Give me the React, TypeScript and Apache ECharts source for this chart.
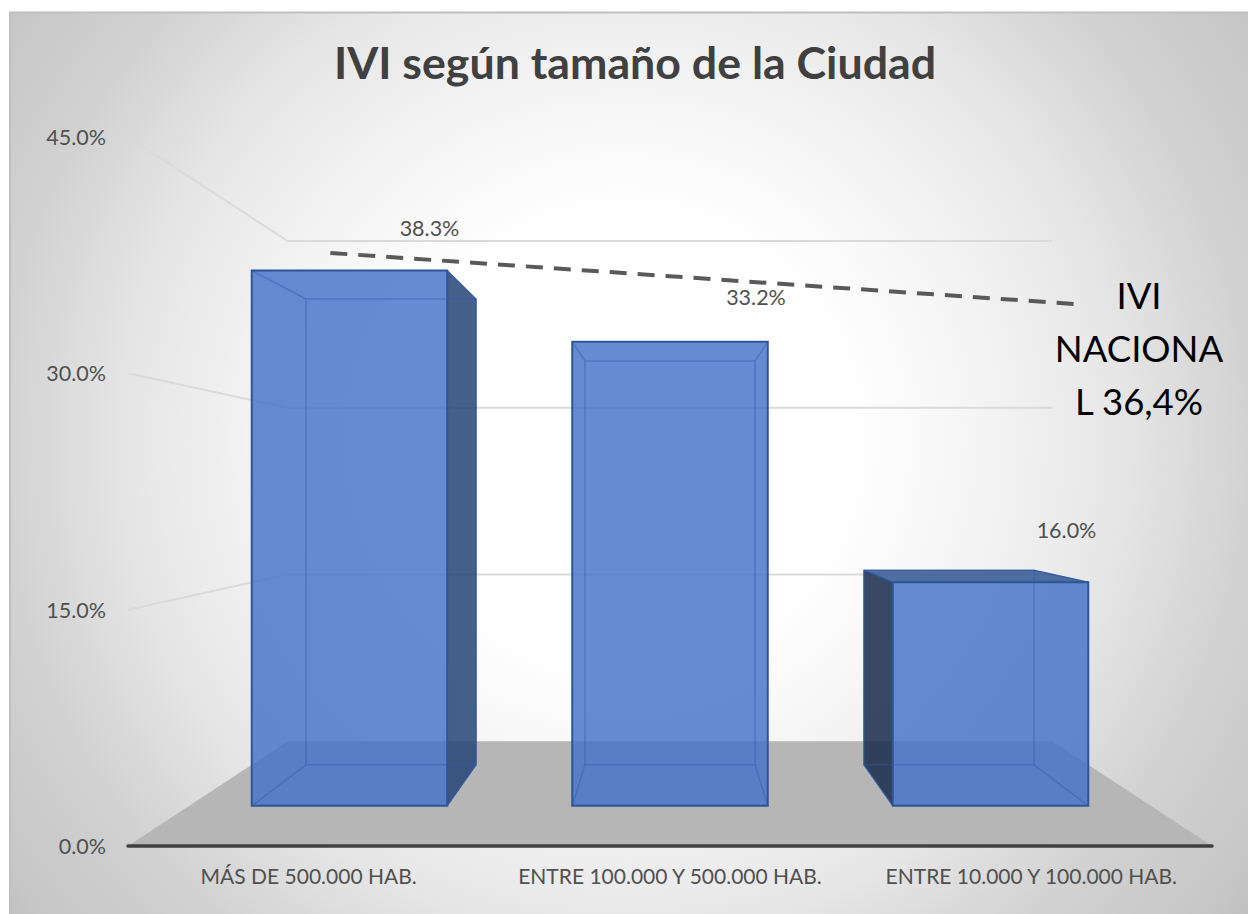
import React, { useEffect, useRef } from "react";
import * as echarts from "echarts";

const TITLE = "IVI según tamaño de la Ciudad";
const CATEGORIES = ["MÁS DE 500.000 HAB.", "ENTRE 100.000 Y 500.000 HAB.", "ENTRE 10.000 Y 100.000 HAB."];
const VALUES = [38.3, 33.2, 16.0];
const TICKS = [0, 15, 30, 45];
const NATIONAL_X = [0.56, 2.62];
const NATIONAL_Y = [37.64, 34.4];
const NATIONAL_TEXT = "IVI\nNACIONA\nL 36,4%";

// perspective of the 3-D box (scale of a depth plane relative to the front plane)
const WALL_S = 0.7055;
const BAR_FRONT_S = 0.887;
const BAR_BACK_S = 0.772;
const VANISH_Y_RATIO = 0.502;
const BAR_WIDTH_RATIO = 0.305;
const LABEL_OFFSETS = [[80, -43], [86, -45], [76, -52]];

const FONT = "Lato, 'Open Sans', sans-serif";
const GRID = { left: 128, top: 137, width: 1084, height: 709 };

function vanish(cs: any) {
  return [cs.x + cs.width / 2, cs.y + cs.height * (1 - VANISH_Y_RATIO)];
}
function proj(v: number[], p: number[], s: number) {
  return [v[0] + (p[0] - v[0]) * s, v[1] + (p[1] - v[1]) * s];
}

function renderWall(params: any, api: any) {
  const cs = params.coordSys;
  const v = vanish(cs);
  const y = api.coord([0, api.value(1)])[1];
  const fl = [cs.x, y];
  const fr = [cs.x + cs.width, y];
  const bl = proj(v, fl, WALL_S);
  const br = proj(v, fr, WALL_S);
  if (api.value(1) === 0) {
    return {
      type: "polygon",
      shape: { points: [fl, fr, br, bl] },
      style: { fill: "#B6B6B6" },
    };
  }
  return {
    type: "polyline",
    shape: { points: [fl, bl, br] },
    style: { fill: "none", stroke: "#DADADA", lineWidth: 2 },
  };
}

function renderBar(params: any, api: any) {
  const cs = params.coordSys;
  const v = vanish(cs);
  const idx = api.value(0);
  const val = api.value(1);
  const top = api.coord([idx, val]);
  const base = api.coord([idx, 0]);
  const half = api.size([1, 0])[0] * BAR_WIDTH_RATIO;
  const P = (x: number, y: number, s: number) => proj(v, [x, y], s);
  const L = top[0] - half;
  const R = top[0] + half;
  const fTL = P(L, top[1], BAR_FRONT_S);
  const fTR = P(R, top[1], BAR_FRONT_S);
  const fBL = P(L, base[1], BAR_FRONT_S);
  const fBR = P(R, base[1], BAR_FRONT_S);
  const bTL = P(L, top[1], BAR_BACK_S);
  const bTR = P(R, top[1], BAR_BACK_S);
  const bBL = P(L, base[1], BAR_BACK_S);
  const bBR = P(R, base[1], BAR_BACK_S);
  const edge = "rgba(47,90,175,0.42)";
  const strong = "#2F5597";
  const kids: any[] = [];
  if (bTR[0] > fTR[0]) {
    kids.push({ type: "polygon", shape: { points: [fTR, bTR, bBR, fBR] }, style: { fill: "rgba(38,68,120,0.85)", stroke: strong, lineWidth: 1 } });
  }
  if (bTL[0] < fTL[0]) {
    kids.push({ type: "polygon", shape: { points: [fTL, bTL, bBL, fBL] }, style: { fill: "rgba(26,44,76,0.86)", stroke: strong, lineWidth: 1 } });
  }
  if (bTL[1] < fTL[1]) {
    kids.push({ type: "polygon", shape: { points: [fTL, fTR, bTR, bTL] }, style: { fill: "rgba(42,80,140,0.82)", stroke: strong, lineWidth: 1 } });
  }
  kids.push({ type: "polygon", shape: { points: [fTL, fTR, fBR, fBL] }, style: { fill: "rgba(68,114,200,0.82)", stroke: strong, lineWidth: 2 } });
  kids.push({ type: "polygon", shape: { points: [bTL, bTR, bBR, bBL] }, style: { fill: "none", stroke: edge, lineWidth: 1.5 } });
  for (const [a, b] of [[fTL, bTL], [fTR, bTR], [fBL, bBL], [fBR, bBR]]) {
    kids.push({ type: "line", shape: { x1: a[0], y1: a[1], x2: b[0], y2: b[1] }, style: { stroke: edge, lineWidth: 1.5 } });
  }
  const off = LABEL_OFFSETS[idx];
  const cx = (fTL[0] + fTR[0]) / 2;
  kids.push({
    type: "text",
    style: {
      text: val.toFixed(1) + "%",
      x: cx + off[0],
      y: fTL[1] + off[1],
      align: "center",
      verticalAlign: "middle",
      fill: "#505050",
      font: `21.5px ${FONT}`,
    },
  });
  return { type: "group", children: kids };
}

export default function App() {
  const ref = useRef<HTMLDivElement>(null);
  useEffect(() => {
    document.body.style.margin = "0";
    const chart = echarts.init(ref.current!, undefined, { renderer: "svg" });
    chart.setOption({
      animation: false,
      graphic: {
        elements: [
          {
            type: "rect",
            z: -10,
            shape: { x: 9, y: 12, width: 1239, height: 902 },
            style: {
              fill: {
                type: "radial",
                global: true,
                x: 625,
                y: 440,
                r: 800,
                colorStops: [
                  { offset: 0, color: "#FFFFFF" },
                  { offset: 0.28, color: "#FFFFFF" },
                  { offset: 0.45, color: "#F4F4F4" },
                  { offset: 0.62, color: "#E6E6E6" },
                  { offset: 0.78, color: "#D2D2D2" },
                  { offset: 0.94, color: "#C6C6C6" },
                  { offset: 1, color: "#BDBDBD" },
                ],
              },
            },
          },
          { type: "line", z: -9, shape: { x1: 9, y1: 12.5, x2: 1248, y2: 12.5 }, style: { stroke: "#BFBFBF", lineWidth: 2 } },
          { type: "line", z: -9, shape: { x1: 10, y1: 12, x2: 10, y2: 914 }, style: { stroke: "#BFBFBF", lineWidth: 2 } },
          {
            type: "text",
            z: 20,
            x: 1139,
            y: 268,
            style: {
              text: NATIONAL_TEXT,
              align: "center",
              verticalAlign: "top",
              fill: "#000000",
              font: `36.5px ${FONT}`,
              lineHeight: 53,
            },
          },
        ],
      },
      title: {
        text: TITLE,
        left: 630,
        top: 34,
        textAlign: "center",
        textStyle: { color: "#404040", fontFamily: FONT, fontWeight: "bold", fontSize: 44.7 },
      },
      grid: { ...GRID },
      xAxis: [
        {
          type: "category",
          data: CATEGORIES,
          z: 4,
          axisTick: { show: false },
          axisLine: { lineStyle: { color: "#404040", width: 3.5, cap: "round" } },
          axisLabel: { color: "#505050", fontFamily: FONT, fontSize: 21, margin: 19, interval: 0 },
        },
        { type: "value", show: false, min: 0, max: 3 },
      ],
      yAxis: {
        type: "value",
        min: 0,
        max: 45,
        interval: 15,
        axisLine: { show: false },
        axisTick: { show: false },
        splitLine: { show: false },
        axisLabel: { color: "#505050", fontFamily: FONT, fontSize: 21.5, margin: 22, formatter: (v: number) => v.toFixed(1) + "%" },
      },
      series: [
        {
          type: "custom",
          name: "walls",
          xAxisIndex: 0,
          clip: false,
          silent: true,
          z: 1,
          data: TICKS.map((t) => [0, t]),
          encode: { x: 0, y: 1 },
          renderItem: renderWall,
        },
        {
          type: "custom",
          name: "IVI",
          xAxisIndex: 0,
          clip: false,
          z: 3,
          data: VALUES.map((v, i) => [i, v]),
          encode: { x: 0, y: 1 },
          renderItem: renderBar,
        },
        {
          type: "line",
          name: "IVI nacional",
          xAxisIndex: 1,
          z: 5,
          symbol: "none",
          data: NATIONAL_X.map((x, i) => [x, NATIONAL_Y[i]]),
          lineStyle: { color: "#595959", width: 4, type: [17, 11] },
        },
      ],
    });
    return () => chart.dispose();
  }, []);
  return <div ref={ref} style={{ width: 1248, height: 914 }} />;
}
